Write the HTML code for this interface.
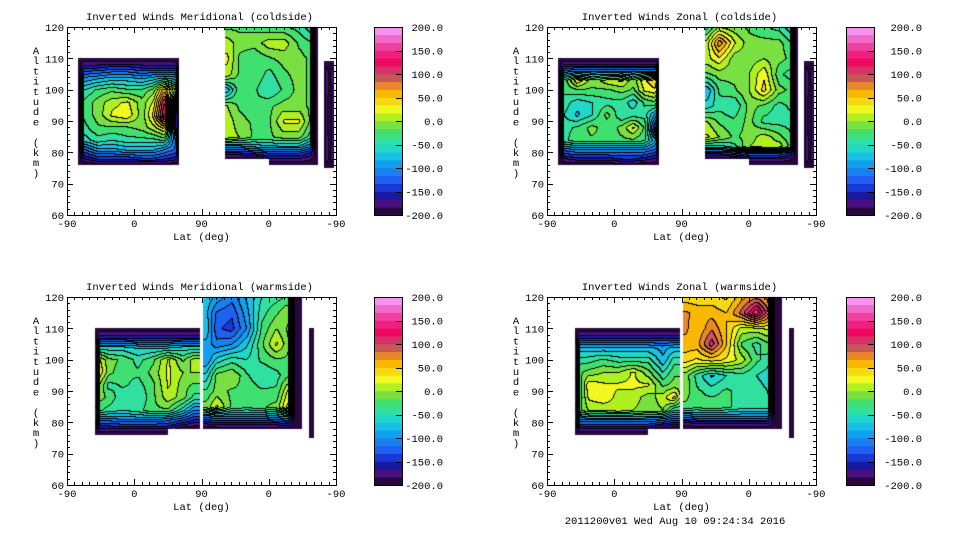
<!DOCTYPE html>
<html><head><meta charset="utf-8">
<style>
html,body{margin:0;padding:0;background:#fff;}
#wrap{position:relative;width:960px;height:540px;overflow:hidden;}
canvas,svg{position:absolute;left:0;top:0;}
text{font-family:"Liberation Mono",monospace;font-size:10.5px;fill:#000;}
</style></head>
<body>
<div id="wrap">
<canvas id="cv" width="960" height="540"></canvas>
<svg id="sv" width="960" height="540"></svg>
</div>
<script>
// ---- shared data ----
const bandColors = ["#28083c","#4a1080","#1818a0","#1838d8","#2060f0","#1880f0","#10a0f0","#18c0e8","#20d8c8","#30e0a0","#40e070","#78e040",
"#b0f020","#f0f820","#f8d810","#f8b800","#e88828","#c85858","#d83068","#f00860","#f02080","#f040a0","#f068c8","#f890f0"];
const cbarLabels = ["200.0","150.0","100.0","50.0","0.0","-50.0","-100.0","-150.0","-200.0"];
const xTickLabels = ["-90","0","90","0","-90"];
const yTickLabels = [60,70,80,90,100,110,120];
const titles = ["Inverted Winds Meridional (coldside)","Inverted Winds Zonal (coldside)","Inverted Winds Meridional (warmside)","Inverted Winds Zonal (warmside)"];

// ---- panel TL: meridional coldside ----
const tlB1Cols = [15,22,40,60,80,100,115,130,145,150];
const tlB1Rows = [76,78,81,84,88,92,96,100,104,107,110];
const tlB1Vals = [
[-200,-200,-200,-200,-200,-200,-200,-200,-200,-200],
[-200,-170,-150,-150,-150,-140,-140,-150,-160,-200],
[-200,-120,-90,-90,-80,-80,-80,-100,-120,-200],
[-200,-60,-40,-50,-40,-40,-40,-30,-120,-200],
[-200,-40,-20,-20,-20,-10,10,40,-150,-200],
[-200,-30,-10,20,30,-10,40,140,-150,-200],
[-200,-30,-10,10,20,-10,20,120,-120,-200],
[-200,-50,-30,-20,-30,-30,-10,60,0,-200],
[-200,-100,-90,-80,-80,-90,-80,-70,-80,-200],
[-200,-150,-150,-140,-140,-150,-150,-150,-150,-200],
[-200,-200,-200,-200,-200,-200,-200,-200,-200,-200]];
const tlB2Cols = [211,214,230,250,270,290,310,325,333,336];
const tlB2Rows = [76,78,80,82,85,90,95,100,105,110,115,120];
const tlB2Vals = [
[null,null,null,null,-200,-200,-200,-200,-200,-200],
[-200,-200,-200,-200,-170,-170,-170,-180,-200,-200],
[-150,-150,-150,-140,-130,-130,-130,-150,-200,-200],
[-90,-90,-90,-80,-70,-70,-70,-100,-200,-200],
[10,10,0,-20,-20,-10,-10,-40,-200,-200],
[10,10,-10,-20,-20,20,20,-20,-200,-200],
[0,0,-20,-30,-20,-10,-10,-20,-200,-200],
[-80,-80,-20,-30,-50,-30,-10,-20,-200,-200],
[10,10,-20,-20,-40,-20,-10,-20,-200,-200],
[20,20,-20,-30,-20,-10,-10,-20,-200,-200],
[10,10,-10,-10,10,10,-20,-30,-200,-200],
[-20,-20,-20,-20,-30,-30,-40,-60,-200,-200]];

// ---- panel TR: zonal coldside ----
const trB1Cols = [15,22,40,60,80,100,115,130,145,150];
const trB1Rows = [76,78,81,84,88,92,96,100,103,106,108,110];
const trB1Vals = [
[-200,-200,-200,-200,-200,-200,-200,-200,-200,-200],
[-200,-170,-160,-160,-160,-150,-150,-160,-170,-200],
[-200,-110,-100,-100,-100,-100,-100,-100,-120,-200],
[-200,-40,-20,-20,-20,-20,-20,-30,-80,-200],
[-200,-40,-30,-10,-30,-10,20,-20,-150,-200],
[-200,-50,-70,-50,-10,-50,-40,-40,-90,-200],
[-200,-40,-60,-50,-40,-40,-60,-30,-20,-200],
[-200,-30,-20,-20,-20,-10,-20,20,30,-200],
[-200,-30,30,-10,10,20,-10,30,50,-200],
[-200,-110,-100,-100,-100,-100,-100,-100,-100,-200],
[-200,-160,-160,-160,-160,-160,-160,-160,-160,-200],
[-200,-200,-200,-200,-200,-200,-200,-200,-200,-200]];
const trB2Cols = [211,214,230,250,270,290,310,325,333,336];
const trB2Rows = [76,78,80,82,85,90,95,100,105,110,115,120];
const trB2Vals = [
[null,null,null,null,-200,-200,-200,-200,-200,-200],
[-200,-200,-200,-200,-170,-170,-170,-180,-200,-200],
[-140,-140,-140,-130,-110,-110,-110,-130,-200,-200],
[-60,-60,-60,-40,0,10,10,-20,-200,-200],
[20,20,0,-20,-10,10,-10,-30,-200,-200],
[0,0,-20,-30,-10,-40,-40,-40,-200,-200],
[-60,-60,-40,-50,-10,-20,-40,-30,-200,-200],
[-80,-80,-30,-20,0,40,-10,-20,-200,-200],
[-20,-20,-10,-10,0,30,-30,-40,-200,-200],
[10,10,30,-10,-10,0,-10,-20,-200,-200],
[10,10,80,20,-10,-10,-10,-30,-200,-200],
[-40,-40,0,-10,-20,-30,-40,-60,-200,-200]];

// cold-side small far-edge blob (shared shape)
const coldB3Cols = [344,346,351,355,357];
const coldB3Rows = [75,78,92,106,109];
const coldB3Vals = [
[-200,-200,-200,-200,-200],
[-200,-170,-190,-170,-200],
[-200,-170,-200,-170,-200],
[-200,-170,-190,-170,-200],
[-200,-200,-200,-200,-200]];

// ---- panel BL: meridional warmside ----
const blB1Cols = [37,43,55,75,95,115,135,155,170,178];
const blB1Rows = [76,78,81,84,88,92,96,100,104,107,110];
const blB1Vals = [
[-200,-200,-200,-200,-200,-200,-200,null,null,null],
[-200,-170,-170,-170,-170,-170,-170,-200,-200,-200],
[-200,-110,-110,-100,-100,-100,-110,-130,-150,-150],
[-200,-30,-40,-50,-40,-20,-20,-60,-100,-100],
[-200,-10,-20,-50,-50,-20,10,-10,-40,-40],
[-200,0,-40,-30,-40,-20,20,-10,-20,-20],
[-200,30,-10,-30,-30,-10,20,0,0,0],
[-200,20,-10,-20,-40,-20,20,-20,10,10],
[-200,-60,-60,-60,-70,-70,-70,-60,-60,-60],
[-200,-150,-150,-150,-150,-150,-150,-150,-150,-150],
[-200,-200,-200,-200,-200,-200,-200,-200,-200,-200]];
const blB2Cols = [182,186,200,220,240,260,280,295,305,315];
const blB2Rows = [78,80,82,85,90,95,100,105,110,115,120];
const blB2Vals = [
[-200,-200,-200,-200,-200,-200,-200,-200,-200,-200],
[-160,-160,-150,-150,-150,-150,-150,-140,-200,-200],
[-110,-110,-100,-100,-100,-100,-90,-80,-200,-200],
[-10,-10,20,-20,-30,-20,-10,40,-200,-200],
[-30,-30,-10,-20,-20,-30,-30,20,-200,-200],
[-60,-60,-10,0,-30,-50,-40,-20,-200,-200],
[-100,-100,-60,-40,-50,-30,-20,-20,-200,-200],
[-90,-90,-110,-100,-70,-20,20,-10,-200,-200],
[-70,-70,-130,-140,-100,-30,0,-20,-200,-200],
[-80,-80,-120,-130,-90,-40,-20,0,-200,-200],
[-70,-70,-90,-110,-80,-50,-40,-30,-200,-200]];

// ---- panel BR: zonal warmside ----
const brB1Cols = [37,43,55,75,95,115,135,155,170,178];
const brB1Rows = [76,78,81,84,88,92,96,100,104,107,110];
const brB1Vals = [
[-200,-200,-200,-200,-200,-200,-200,null,null,null],
[-200,-170,-170,-170,-170,-170,-170,-200,-200,-200],
[-200,-100,-100,-100,-100,-100,-100,-110,-130,-130],
[-200,-20,0,0,10,0,-10,0,-50,-50],
[-200,-30,20,30,10,10,-10,10,40,0],
[-200,-30,30,20,20,20,20,-20,-10,-10],
[-200,-20,-10,0,0,20,-10,-50,-20,-20],
[-200,-40,-40,-30,-40,-40,-40,-80,-40,-40],
[-200,-80,-80,-80,-80,-80,-80,-90,-80,-80],
[-200,-150,-150,-150,-150,-150,-150,-150,-150,-150],
[-200,-200,-200,-200,-200,-200,-200,-200,-200,-200]];
const brB2Cols = [182,186,200,220,240,260,280,295,305,315];
const brB2Rows = [78,80,82,85,90,95,100,105,110,115,120];
const brB2Vals = [
[-200,-200,-200,-200,-200,-200,-200,-200,-200,-200],
[-170,-170,-160,-160,-160,-160,-160,-160,-200,-200],
[-110,-110,-100,-100,-100,-100,-100,-100,-200,-200],
[-20,-20,-30,-20,-30,-40,-40,-40,-200,-200],
[-10,-10,-30,-40,-30,-40,-40,-50,-200,-200],
[-10,-10,-40,-70,-50,-40,-50,-60,-200,-200],
[40,40,30,40,30,10,-30,-40,-200,-200],
[60,60,60,110,50,-20,-40,-20,-200,-200],
[70,70,50,80,50,10,10,20,-200,-200],
[70,70,60,60,50,90,150,90,-200,-200],
[40,40,40,40,30,60,80,60,-200,-200]];

const warmB3Cols = [324,325,327,329,330];
const warmB3Rows = [75,80,92,105,110];
const warmB3Vals = [
[-200,-200,-200,-200,-200],
[-200,-200,-200,-200,-200],
[-200,-200,-200,-200,-200],
[-200,-200,-200,-200,-200],
[-200,-200,-200,-200,-200]];

// ---- layout ----
const panels = [
 {fx:67,fy:27,cb:374,lab:443,title:titles[0],blocks:[[tlB1Cols,tlB1Rows,tlB1Vals],[tlB2Cols,tlB2Rows,tlB2Vals],[coldB3Cols,coldB3Rows,coldB3Vals]]},
 {fx:547,fy:27,cb:846,lab:922,title:titles[1],blocks:[[trB1Cols,trB1Rows,trB1Vals],[trB2Cols,trB2Rows,trB2Vals],[coldB3Cols,coldB3Rows,coldB3Vals]]},
 {fx:67,fy:297,cb:374,lab:443,title:titles[2],blocks:[[blB1Cols,blB1Rows,blB1Vals],[blB2Cols,blB2Rows,blB2Vals],[warmB3Cols,warmB3Rows,warmB3Vals]]},
 {fx:547,fy:297,cb:846,lab:922,title:titles[3],blocks:[[brB1Cols,brB1Rows,brB1Vals],[brB2Cols,brB2Rows,brB2Vals],[warmB3Cols,warmB3Rows,warmB3Vals]]}
];
const FW=269, FH=188;
function xScale(p,u){return p.fx+u*FW/360;}
function yScale(p,a){return p.fy+(120-a)*FH/60;}
function uInv(p,x){return (x-p.fx)*360/FW;}
function aInv(p,y){return 120-(y-p.fy)*60/FH;}
function bandOf(v){let b=Math.floor((v+200)/400*24);return Math.max(0,Math.min(23,b));}
function seg(arr,v){for(let i=0;i<arr.length-1;i++){if(v>=arr[i]&&v<=arr[i+1])return i;}return -1;}
function sample(cols,rows,vals,u,a){
  const i=seg(cols,u), j=seg(rows,a); if(i<0||j<0)return null;
  const v00=vals[j][i],v10=vals[j][i+1],v01=vals[j+1][i],v11=vals[j+1][i+1];
  if(v00==null||v10==null||v01==null||v11==null)return null;
  const tx=(u-cols[i])/(cols[i+1]-cols[i]), ty=(a-rows[j])/(rows[j+1]-rows[j]);
  return (v00*(1-tx)+v10*tx)*(1-ty)+(v01*(1-tx)+v11*tx)*ty;
}
const ctx=document.getElementById('cv').getContext('2d');
panels.forEach(p=>{
  p.blocks.forEach(([cols,rows,vals])=>{
    const x0=Math.round(xScale(p,cols[0])), x1=Math.round(xScale(p,cols[cols.length-1]));
    const y0=Math.round(yScale(p,rows[rows.length-1])), y1=Math.round(yScale(p,rows[0]));
    const W=x1-x0+1,H=y1-y0+1; const g=[];
    for(let yy=0;yy<H;yy++){g.push([]);for(let xx=0;xx<W;xx++){
      const v=sample(cols,rows,vals,uInv(p,x0+xx+0.5),aInv(p,y0+yy+0.5));
      g[yy].push(v==null?null:bandOf(v));}}
    for(let yy=0;yy<H;yy++)for(let xx=0;xx<W;xx++){
      const b=g[yy][xx]; if(b==null)continue;
      let line=false;
      if(xx>0&&g[yy][xx-1]!=null&&g[yy][xx-1]!==b)line=true;
      if(yy>0&&g[yy-1][xx]!=null&&g[yy-1][xx]!==b)line=true;
      ctx.fillStyle=line?"#000":bandColors[b];
      ctx.fillRect(x0+xx,y0+yy,1,1);
    }
  });
});
// ---- axes overlay ----
const NS="http://www.w3.org/2000/svg"; const sv=document.getElementById('sv');
function mk(tag,attrs,parent){const e=document.createElementNS(NS,tag);for(const k in attrs)e.setAttribute(k,attrs[k]);(parent||sv).appendChild(e);return e;}
panels.forEach((p,pi)=>{
  const g=mk('g',{});
  
  
  const fr=mk('rect',{x:p.fx+0.5,y:p.fy+0.5,width:FW,height:FH,fill:'none',stroke:'#000','stroke-width':1},g);
  
  
  const t=mk('text',{x:p.fx+FW/2-2,y:p.fy-7,'text-anchor':'middle'},g); t.textContent=p.title;
  
  
  let d='';
  for(let a=60;a<=120;a+=2){const y=Math.round(yScale(p,a))+0.5;const L=(a%10===0)?6:3;
    d+=`M${p.fx} ${y}h${L}M${p.fx+FW} ${y}h${-L}`;}
  for(let u=0;u<=360;u+=10){const x=Math.round(xScale(p,u))+0.5;const L=(u%90===0)?6:3;
    d+=`M${x} ${p.fy+FH}v${-L}M${x} ${p.fy}v${L}`;}
  const tk=mk('path',{d:d,stroke:'#000','stroke-width':1,fill:'none'},g);
  
  
  yTickLabels.forEach(a=>{const tl=mk('text',{x:p.fx-3,y:yScale(p,a)+4,'text-anchor':'end'},g);tl.textContent=a;
    
    });
  xTickLabels.forEach((s,i)=>{const tl=mk('text',{x:xScale(p,i*90),y:p.fy+FH+12,'text-anchor':'middle'},g);tl.textContent=s;
    
    });
  const xl=mk('text',{x:p.fx+FW/2,y:p.fy+FH+25,'text-anchor':'middle'},g);xl.textContent='Lat (deg)';
  
  
  const yl=mk('text',{x:p.fx-31,y:p.fy+27,'text-anchor':'middle'},g);
  
  
  'Altitude (km)'.split('').forEach((c,i)=>{const ts=mk('tspan',{x:p.fx-31,y:p.fy+27+i*10.2},yl);ts.textContent=c;});
  // colorbar
  const cbH=188/24;
  bandColors.forEach((c,i)=>{const r=mk('rect',{x:p.cb,y:p.fy+FH-(i+1)*cbH,width:28,height:cbH+0.3,fill:c},g);
    
    });
  const cbf=mk('rect',{x:p.cb+0.5,y:p.fy+0.5,width:28,height:188,fill:'none',stroke:'#000','stroke-width':1},g);
  
  
  let cd='';
  cbarLabels.forEach((s,i)=>{const y=p.fy+i*188/8;
    const tl=mk('text',{x:p.lab,y:y+4,'text-anchor':'end'},g);tl.textContent=s;
    
    
    cd+=`M${p.cb+28} ${Math.round(y)+0.5}h-6`;});
  mk('path',{d:cd,stroke:'#000','stroke-width':1},g);
});
const ft=mk('text',{x:675,y:524,'text-anchor':'middle'});ft.textContent='2011200v01 Wed Aug 10 09:24:34 2016';


</script>
</body></html>
